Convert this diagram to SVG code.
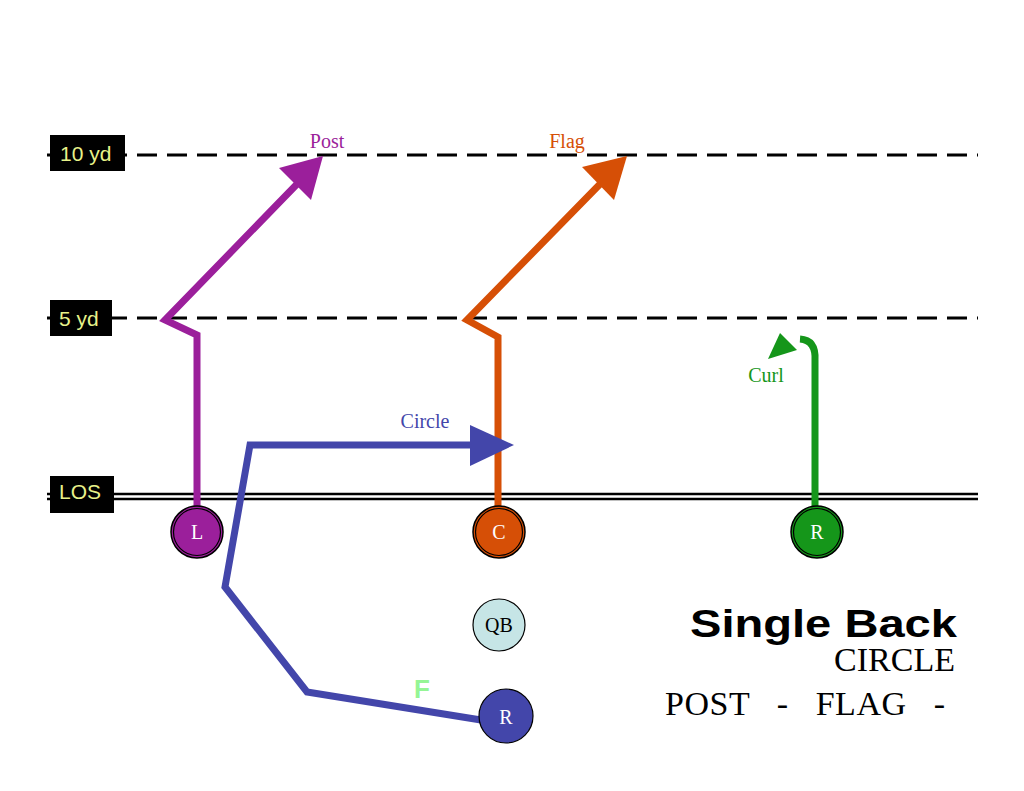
<svg xmlns="http://www.w3.org/2000/svg" width="1024" height="791" viewBox="0 0 1024 791">
<style>
.yd{stroke:#000;stroke-width:3;stroke-dasharray:20 10;fill:none}
.box{fill:#000}
.boxt{font-family:"Liberation Sans",Arial,sans-serif;font-size:21px;fill:#e8f28a}
.rt{fill:none;stroke-width:7;stroke-linejoin:miter;stroke-linecap:butt}
.lbl{font-family:"Liberation Serif","Times New Roman",serif;font-size:20px;text-anchor:middle}
.nt{font-family:"Liberation Serif","Times New Roman",serif;font-size:20px;text-anchor:middle;fill:#fff}
.ring{fill:none;stroke:#000;stroke-width:1.2}
</style>
<rect width="1024" height="791" fill="#fff"/>
<g id="lines">
<line class="yd" x1="47" y1="155" x2="978" y2="155"/>
<line class="yd" x1="47" y1="318" x2="978" y2="318"/>
<line x1="47" y1="494" x2="978" y2="494" stroke="#000" stroke-width="2.5"/>
<line x1="47" y1="499" x2="978" y2="499" stroke="#000" stroke-width="2.5"/>
</g>
<g id="label-10yd"><rect class="box" x="50" y="135" width="75" height="36"/><text class="boxt" x="60" y="161">10 yd</text></g>
<g id="label-5yd"><rect class="box" x="50" y="300" width="62" height="36"/><text class="boxt" x="59" y="326">5 yd</text></g>
<g id="label-los"><rect class="box" x="50" y="476" width="64" height="37"/><text class="boxt" x="59" y="499">LOS</text></g>
<g id="connectors">
<polyline class="rt" stroke="#9b1f9b" points="197,506 197,335 165,320 300,181"/>
<polygon fill="#9b1f9b" points="323,156 311,200 279,168"/>
<polyline class="rt" stroke="#d64f06" points="498,506 498,337 467,320 604,180"/>
<polygon fill="#d64f06" points="627,156 614,200 582,167"/>
<path class="rt" stroke="#15961a" d="M815,506 L815,360 Q816,340 800,339"/>
<polygon fill="#15961a" points="768,359 780,333 797,350"/>
<polyline class="rt" stroke="#4346aa" points="481,720 307,692 225,587 250,445 472,445"/>
<polygon fill="#4346aa" points="514,445 470,425 470,466"/>
</g>
<g id="label-post"><text class="lbl" x="327" y="148" fill="#9b1f9b">Post</text></g>
<g id="label-flag"><text class="lbl" x="567" y="148" fill="#d64f06">Flag</text></g>
<g id="label-curl"><text class="lbl" x="766" y="382" fill="#15961a">Curl</text></g>
<g id="label-circle"><text class="lbl" x="425" y="428" fill="#4346aa">Circle</text></g>
<g id="label-f"><text x="422" y="698" font-family="Liberation Sans,Arial,sans-serif" font-weight="bold" font-size="26" fill="#95f595" text-anchor="middle">F</text></g>
<g id="node-L"><circle cx="197" cy="532" r="26" fill="#9b1f9b" stroke="#000" stroke-width="1.5"/><circle class="ring" cx="197" cy="532" r="23.5"/><text class="nt" x="197" y="539">L</text></g>
<g id="node-C"><circle cx="499" cy="532" r="26" fill="#d64f06" stroke="#000" stroke-width="1.5"/><circle class="ring" cx="499" cy="532" r="23.5"/><text class="nt" x="499" y="539">C</text></g>
<g id="node-R"><circle cx="817" cy="532" r="26" fill="#15961a" stroke="#000" stroke-width="1.5"/><circle class="ring" cx="817" cy="532" r="23.5"/><text class="nt" x="817" y="539">R</text></g>
<g id="node-QB"><circle cx="499" cy="625" r="26" fill="#c6e5e6" stroke="#000" stroke-width="1.2"/><text x="499" y="632" font-family="Liberation Serif,Times New Roman,serif" font-size="20" text-anchor="middle" fill="#000">QB</text></g>
<g id="node-RB"><circle cx="506" cy="716" r="27" fill="#4346aa" stroke="#000" stroke-width="1.2"/><text class="nt" x="506" y="724">R</text></g>
<g id="title">
<text x="690" y="637" font-family="Liberation Sans,Arial,sans-serif" font-weight="bold" font-size="38" textLength="267" lengthAdjust="spacingAndGlyphs" fill="#000">Single Back</text>
<text x="955" y="671" font-family="Liberation Serif,Times New Roman,serif" font-size="34" text-anchor="end" fill="#000">CIRCLE</text>
<text x="665" y="715" font-family="Liberation Serif,Times New Roman,serif" font-size="34" fill="#000" xml:space="preserve" textLength="280">POST   -   FLAG   -</text>
</g>
</svg>
